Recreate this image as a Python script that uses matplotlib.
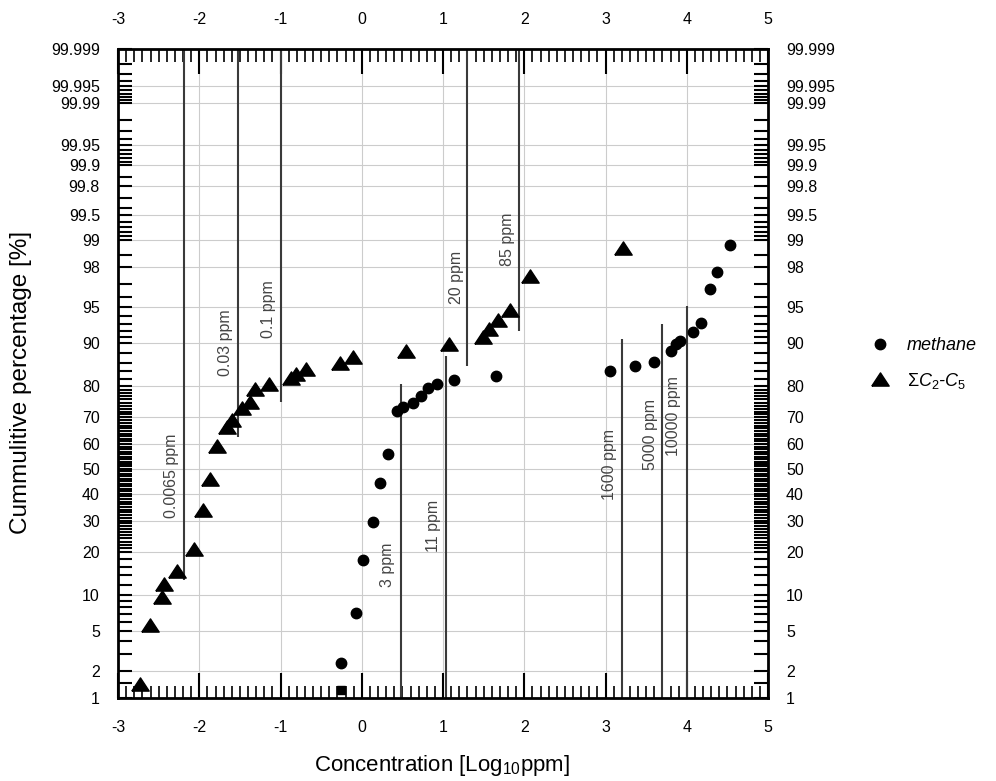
import numpy as np
import matplotlib
matplotlib.use('Agg')
import matplotlib.pyplot as plt
from matplotlib.ticker import MultipleLocator
from statistics import NormalDist

plt.rcParams['font.family'] = ['Liberation Sans', 'DejaVu Sans']
plt.rcParams['mathtext.fontset'] = 'custom'
plt.rcParams['mathtext.rm'] = 'Liberation Sans'
plt.rcParams['mathtext.it'] = 'Liberation Sans:italic'
plt.rcParams['axes.unicode_minus'] = False

# --- data (log10 ppm, cumulative %)
c25_x = [-2.73, -2.61, -2.46, -2.44, -2.28, -2.06, -1.96, -1.87, -1.78, -1.66,
         -1.60, -1.47, -1.38, -1.31, -1.14, -0.87, -0.81, -0.69, -0.27, -0.11,
         0.55, 1.07, 1.49, 1.56, 1.68, 1.83, 2.07, 3.22]
c25_p = [1.44, 5.6, 9.7, 12.2, 14.9, 20.9, 33.9, 46.0, 59.3, 66.6,
         69.0, 73.1, 75.2, 79.1, 80.5, 82.1, 83.2, 84.4, 86.0, 87.3,
         88.4, 89.7, 90.9, 92.3, 93.5, 94.7, 97.5, 98.76]

ch4_x = [-0.25, -0.07, 0.02, 0.135, 0.225, 0.32, 0.43, 0.51, 0.63, 0.73,
         0.82, 0.93, 1.14, 1.65, 3.05, 3.36, 3.60, 3.80, 3.87, 3.92,
         4.08, 4.18, 4.29, 4.37, 4.53]
ch4_p = [2.42, 7.1, 17.7, 29.5, 44.4, 56.0, 72.2, 73.4, 74.8, 76.9,
         79.3, 80.5, 81.6, 82.7, 83.9, 85.1, 86.2, 88.4, 89.7, 90.3,
         91.8, 93.1, 96.6, 97.7, 98.86]
ch4_low_x = [-0.255]
ch4_low_p = [1.23]

# threshold lines
thr_ppm = [0.0065, 0.03, 0.1, 20, 85, 3, 11, 1600, 5000, 10000]
thr_txt = ['0.0065 ppm', '0.03 ppm', '0.1 ppm', '20 ppm', '85 ppm',
           '3 ppm', '11 ppm', '1600 ppm', '5000 ppm', '10000 ppm']
thr_lo = [12.9, 62.7, 75.2, 85.1, 91.9, 1, 1, 1, 1, 1]
thr_hi = [99.999, 99.999, 99.999, 99.999, 99.999, 80.5, 87.4, 90.7, 93.0, 95.1]
lab_x = [-2.34, -1.683, -1.153, 1.161, 1.798, 0.315, 0.882, 3.049, 3.559, 3.840]
lab_p = [47.4, 90.06, 94.8, 97.4, 99.02, 16.4, 28.0, 51.6, 63.8, 70.6]

ytick_vals = [1, 2, 5, 10, 20, 30, 40, 50, 60, 70, 80, 90, 95, 98, 99, 99.5,
              99.8, 99.9, 99.95, 99.99, 99.995, 99.999]
ytick_txt = ['1', '2', '5', '10', '20', '30', '40', '50', '60', '70', '80', '90',
             '95', '98', '99', '99.5', '99.8', '99.9', '99.95', '99.99',
             '99.995', '99.999']
yminor = ([1.5, 3, 4, 6, 7, 8, 9, 12, 14, 16, 18]
          + [v for v in range(21, 80) if v % 10]
          + [82, 84, 86, 88, 91, 92, 93, 94, 96, 97, 98.5,
             99.1, 99.2, 99.3, 99.4, 99.6, 99.7, 99.85,
             99.91, 99.92, 99.93, 99.94, 99.96, 99.97, 99.98,
             99.991, 99.992, 99.993, 99.994, 99.996, 99.997, 99.998])

# normal probability scale
ND = NormalDist()
_ppf = np.vectorize(ND.inv_cdf, otypes=[float])
_cdf = np.vectorize(ND.cdf, otypes=[float])


def fwd(p):
    p = np.clip(np.asarray(p, dtype=float), 1e-7, 100 - 1e-7)
    return _ppf(p / 100.0)


def inv(z):
    return 100.0 * _cdf(np.asarray(z, dtype=float))


fig = plt.figure(figsize=(9.96, 7.81), dpi=100)
ax = fig.add_axes([0.1185, 0.1063, 0.6526, 0.831])
ax.set_yscale('function', functions=(fwd, inv))
ax.set_xlim(-3, 5)
ax.set_ylim(1, 99.999)

ax.set_yticks(ytick_vals)
ax.set_yticklabels(ytick_txt)
ax.set_yticks(yminor, minor=True)
ax.set_xticks(range(-3, 6))
ax.xaxis.set_minor_locator(MultipleLocator(0.1))

ax.grid(True, which='major', color='#cccccc', lw=0.8)
ax.set_axisbelow(True)

for s in ax.spines.values():
    s.set_linewidth(2)

ax.tick_params(axis='x', which='major', direction='in', length=18, width=1.5,
               top=True, bottom=True, labeltop=True, pad=16, labelsize=11.5)
ax.tick_params(axis='x', which='minor', direction='in', length=9, width=1.2,
               top=True, bottom=True)
ax.tick_params(axis='y', which='both', direction='in', length=10, width=1.5,
               left=True, right=True, labelright=True, pad=13, labelsize=11.5)

ax.vlines(np.log10(thr_ppm), thr_lo, thr_hi, colors='#3a3a3a', lw=1.5, zorder=2)
for x, p, t in zip(lab_x, lab_p, thr_txt):
    ax.text(x, p, t, rotation=90, ha='center', va='center', color='#444444',
            fontsize=11.5)

tri = [(-1, -0.76), (1, -0.76), (0, 0.76), (-1, -0.76)]
h1, = ax.plot(ch4_x, ch4_p, 'o', color='black', ms=7.5, ls='none', zorder=3)
ax.plot(ch4_low_x, ch4_low_p, 's', color='black', ms=6, ls='none', zorder=3,
        clip_on=False)
h2, = ax.plot(c25_x, c25_p, marker=tri, color='black', ms=12.5, ls='none', zorder=3)

fig.legend([h1, h2], ['methane', r'$\Sigma C_{2}$-$C_{5}$'],
           loc='center left', bbox_to_anchor=(862 / 996, 0.534), frameon=False,
           borderpad=0, handlelength=1.0, handletextpad=1.0, labelspacing=0.9,
           prop={'size': 13, 'style': 'italic'})

fig.text(442 / 996, 1 - 765 / 781, r'Concentration [Log$_{10}$ppm]',
         ha='center', va='center', fontsize=16)
fig.text(21 / 996, 1 - 382 / 781, 'Cummulitive percentage [%]', rotation=90,
         ha='center', va='center', fontsize=17.5)

fig.savefig('out.png', dpi=100)
